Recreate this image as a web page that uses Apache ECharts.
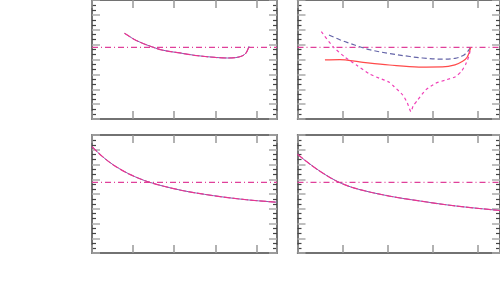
<!DOCTYPE html>
<html><head><meta charset="utf-8">
<script src="https://cdn.jsdelivr.net/npm/echarts@6/dist/echarts.min.js"></script>
<style>html,body{margin:0;padding:0;background:#fff}#c{width:500px;height:300px}</style>
</head><body><div id="c"></div>
<script>
// Panel A (top-left)
var aX = [0.79, 1.09, 1.45, 1.73, 2.14, 2.5, 3.0, 3.3, 3.5, 3.65, 3.75, 3.82];
var aY = [5.76, 5.26, 4.86, 4.62, 4.44, 4.28, 4.14, 4.10, 4.13, 4.24, 4.45, 4.90];
var refLevel = 4.82;
// Panel B (top-right)
var bBlueX = [0.70, 0.94, 1.16, 1.38, 1.60, 2.04, 2.50, 2.78, 3.22, 3.50, 3.67, 3.77, 3.85];
var bBlueY = [5.65, 5.33, 5.09, 4.86, 4.66, 4.40, 4.20, 4.10, 4.02, 4.08, 4.25, 4.50, 4.82];
var bRedX = [0.61, 0.94, 1.38, 2.04, 2.70, 3.22, 3.50, 3.67, 3.77, 3.85];
var bRedY = [3.97, 3.99, 3.84, 3.63, 3.49, 3.50, 3.64, 3.88, 4.15, 4.82];
var bPinkX = [0.53, 0.79, 1.05, 1.31, 1.60, 1.82, 2.04, 2.15, 2.34, 2.44, 2.52, 2.57, 2.67, 2.85, 3.07, 3.29, 3.51, 3.65, 3.74, 3.81, 3.85];
var bPinkY = [5.87, 4.86, 4.17, 3.63, 3.03, 2.74, 2.47, 2.17, 1.61, 1.08, 0.49, 0.87, 1.28, 1.95, 2.40, 2.62, 2.84, 3.23, 3.70, 4.24, 4.82];
// Panel C (bottom-left)
var cX = [0, 0.25, 0.52, 0.92, 1.41, 2.14, 2.95, 3.76, 4.5];
var cY = [7.21, 6.55, 5.97, 5.33, 4.79, 4.27, 3.89, 3.61, 3.44];
var cLevel = 4.79;
// Panel D (bottom-right)
var dX = [0, 0.28, 0.57, 0.92, 1.31, 2.04, 2.78, 3.51, 4.5];
var dY = [6.69, 6.02, 5.40, 4.80, 4.36, 3.86, 3.50, 3.19, 2.88];
var dLevel = 4.79;

var xMin = 0, xMax = 4.5, yMin = 0, yMax = 8;

function pairs(xs, ys){ return xs.map(function(x,i){return [x, ys[i]];}); }

var grids = [
  {left:92, top:0, width:185, height:119},
  {left:297.5, top:0, width:204, height:119},
  {left:92, top:135, width:185, height:118},
  {left:297.5, top:135, width:204, height:118}
];
var xAxes = [], yAxes = [];
grids.forEach(function(g, i){
  ['bottom','top'].forEach(function(pos){
    xAxes.push({gridIndex:i, type:'value', position:pos, min:xMin, max:xMax, interval:1,
      axisLine:{show:true, onZero:false, lineStyle:{color:'#444', width:1.5}},
      axisTick:{show:true, inside:true, length:8, lineStyle:{color:'#999', width:1.5}},
      axisLabel:{show:false}, splitLine:{show:false}});
  });
  ['left','right'].forEach(function(pos){
    yAxes.push({gridIndex:i, type:'value', position:pos, min:yMin, max:yMax, interval:1,
      axisLine:{show:true, onZero:false, lineStyle:{color:'#444', width:1.5}},
      axisTick:{show:true, inside:true, length:8, lineStyle:{color:'#aaa', width:1.5}},
      minorTick:{show:true, splitNumber:3, length:4, lineStyle:{color:'#444', width:1.2}},
      axisLabel:{show:false}, splitLine:{show:false}});
  });
});

function line(gi, data, color, type, width, z, sm){
  return {type:'line', xAxisIndex:gi*2, yAxisIndex:gi*2, data:data, showSymbol:false, symbol:'none',
    smooth:(sm===undefined?0.35:sm), lineStyle:{color:color, type:type, width:width||1.2}, z:z||2, silent:true, animation:false};
}
function level(gi, v){
  return {type:'line', xAxisIndex:gi*2, yAxisIndex:gi*2, data:[[xMin,v],[xMax,v]], showSymbol:false, symbol:'none',
    lineStyle:{color:'#e0409a', type:[6,3,1,3], width:1.2}, z:1, silent:true, animation:false};
}
var series = [
  level(0, refLevel),
  line(0, pairs(aX,aY), '#7a62b0', 'solid', 1),
  line(0, pairs(aX,aY), '#ea3590', [7,2], 1.2, 3),
  level(1, refLevel),
  line(1, pairs(bBlueX,bBlueY), '#6464a8', [5,3], 1.2),
  line(1, pairs(bRedX,bRedY), '#ff4a4a', 'solid', 1.2),
  line(1, pairs(bPinkX,bPinkY), '#f040b8', [3,3], 1.2, 2, 0.2),
  level(2, cLevel),
  line(2, pairs(cX,cY), '#7a62b0', 'solid', 1),
  line(2, pairs(cX,cY), '#ea3590', [7,2], 1.2, 3),
  level(3, dLevel),
  line(3, pairs(dX,dY), '#7a62b0', 'solid', 1),
  line(3, pairs(dX,dY), '#ea3590', [7,2], 1.2, 3)
];
var chart = echarts.init(document.getElementById('c'), null, {renderer:'canvas'});
chart.setOption({animation:false, grid:grids, xAxis:xAxes, yAxis:yAxes, series:series});
</script></body></html>
